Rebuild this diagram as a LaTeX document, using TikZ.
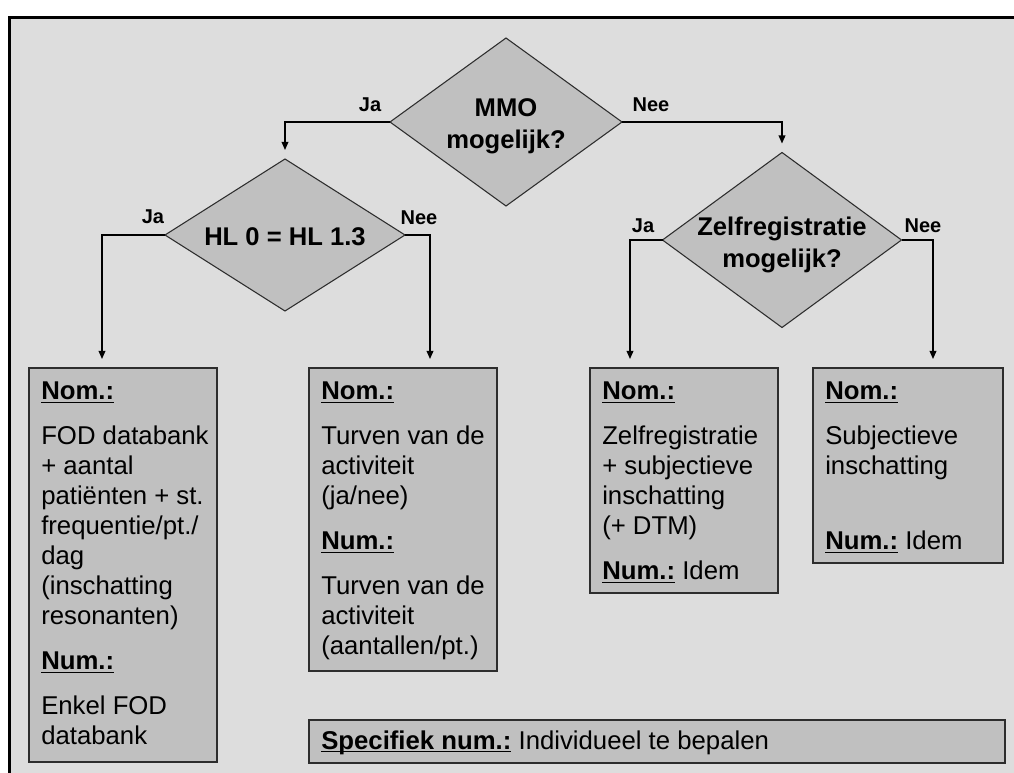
\documentclass[tikz,border=0pt]{standalone}
\usepackage{fontspec}
\setmainfont{Liberation Sans}
\usetikzlibrary{shapes.geometric,arrows.meta}
\definecolor{bgg}{RGB}{221,221,221}
\definecolor{fillg}{RGB}{192,192,192}
\definecolor{edgeg}{RGB}{45,45,45}
\newcommand\ulx[1]{\setbox0\hbox{#1}\rlap{\rule[-2.5pt]{\wd0}{1.3pt}}\box0\relax}
\begin{document}
\begin{tikzpicture}[x=0.75pt,y=-0.75pt,
  dia/.style={diamond, draw=edgeg, fill=fillg, line width=0.8pt, inner sep=0pt, outer sep=0pt},
  ditext/.style={font=\bfseries\fontsize{19.2}{24}\selectfont, align=center, inner sep=0pt},
  lab/.style={font=\bfseries\fontsize{15}{18}\selectfont, inner sep=0pt},
  boxx/.style={draw=edgeg, fill=fillg, line width=1.1pt, inner sep=0pt, outer sep=0pt, anchor=north west},
  btext/.style={font=\fontsize{19.3}{22.5}\selectfont, align=left, inner sep=0pt, anchor=north west},
  arr/.style={draw=black, line width=1pt, -{Triangle[length=6pt,width=5pt]}, shorten >=6.75pt}]
% page and frame
\useasboundingbox (0,0) rectangle (1014,773);
\fill[white] (0,0) rectangle (1014,773);
\fill[bgg] (8,16) rectangle (1014,773);
\draw[black, line width=2.4pt] (9.5,773) -- (9.5,17.5) -- (1014,17.5);
% diamonds
\node[dia, minimum width={232*0.75pt}, minimum height={168*0.75pt}] (mmo) at (506,122) {};
\node[ditext] (mmot) at (506,126.5) {MMO\\mogelijk?};
\node[dia, minimum width={240*0.75pt}, minimum height={152*0.75pt}] (hl) at (285,235) {};
\node[ditext] (hlt) at (285,237) {HL 0 = HL 1.3};
\node[dia, minimum width={239*0.75pt}, minimum height={175*0.75pt}] (zel) at (782,240) {};
\node[ditext] (zelt) at (782,244.5) {Zelfregistratie\\mogelijk?};
% boxes
\node[boxx, minimum width={188*0.75pt}, minimum height={394*0.75pt}] (box1) at (29,368) {};
\node[boxx, minimum width={188*0.75pt}, minimum height={303*0.75pt}] (box2) at (309,368) {};
\node[boxx, minimum width={188*0.75pt}, minimum height={225*0.75pt}] (box3) at (590,368) {};
\node[boxx, minimum width={190*0.75pt}, minimum height={195*0.75pt}] (box4) at (813,368) {};
\node[boxx, minimum width={696*0.75pt}, minimum height={43*0.75pt}] (spec) at (309,720) {};
% box texts
\node[btext] (t1) at ([shift={(12,14)}]box1.north west) {\ulx{\textbf{Nom.:}}\\[11.25pt]
FOD databank\\+ aantal\\patiënten + st.\\frequentie/pt./\\dag\\(inschatting\\resonanten)\\[11.25pt]
\ulx{\textbf{Num.:}}\\[11.25pt]Enkel FOD\\databank};
\node[btext] (t2) at ([shift={(12,14)}]box2.north west) {\ulx{\textbf{Nom.:}}\\[11.25pt]
Turven van de\\activiteit\\(ja/nee)\\[11.25pt]\ulx{\textbf{Num.:}}\\[11.25pt]
Turven van de\\activiteit\\(aantallen/pt.)};
\node[btext] (t3) at ([shift={(12,14)}]box3.north west) {\ulx{\textbf{Nom.:}}\\[11.25pt]
Zelfregistratie\\+ subjectieve\\inschatting\\(+ DTM)\\[11.25pt]\ulx{\textbf{Num.:}} Idem};
\node[btext] (t4) at ([shift={(12,14)}]box4.north west) {\ulx{\textbf{Nom.:}}\\[11.25pt]
Subjectieve\\inschatting\\[33.75pt]\ulx{\textbf{Num.:}} Idem};
\node[font=\fontsize{19.3}{22.5}\selectfont, inner sep=0pt, anchor=base west] (t5)
  at ([shift={(12,29)}]spec.north west) {\ulx{\textbf{Specifiek num.:}} Individueel te bepalen};
% target coordinates on box tops
\coordinate (a1) at (102,368);
\coordinate (a2) at (430,368);
\coordinate (a3) at (630,368);
\coordinate (a4) at (933,368);
% connectors
\draw[arr] (mmo.west) -| (hl.north);
\draw[arr] (mmo.east) -| (zel.north);
\draw[arr] (hl.west) -| (a1);
\draw[arr] (hl.east) -| (a2);
\draw[arr] (zel.west) -| (a3);
\draw[arr] (zel.east) -| (a4);
% labels
\node[lab] (l1) at (370,105) {Ja};
\node[lab] (l2) at (651,105) {Nee};
\node[lab] (l3) at (153,217) {Ja};
\node[lab] (l4) at (419,218) {Nee};
\node[lab] (l5) at (643,226) {Ja};
\node[lab] (l6) at (923,226) {Nee};
\end{tikzpicture}
\end{document}
